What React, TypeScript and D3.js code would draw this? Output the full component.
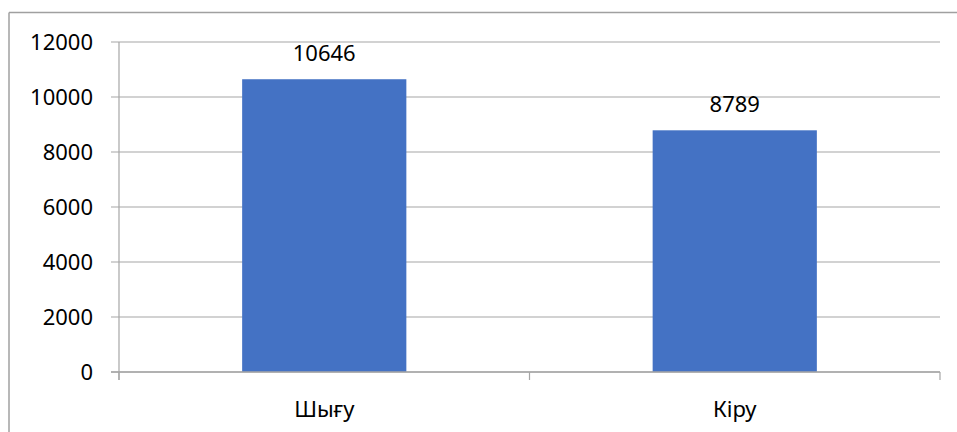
import React from "react";
import * as d3 from "d3";

const categories = ["Шығу", "Кіру"];
const values = [10646, 8789];
const yTicks = [0, 2000, 4000, 6000, 8000, 10000, 12000];

export default function App() {
  const W = 957, H = 432;
  const left = 119, right = 940, top = 42, bottom = 372;
  const x = d3.scaleBand<string>().domain(categories).range([left, right]).paddingInner(0.6).paddingOuter(0.3);
  const xb = d3.scaleBand<string>().domain(categories).range([left, right]);
  const y = d3.scaleLinear().domain([0, 12000]).range([bottom, top]);
  const font = "'Noto Sans', 'Open Sans', sans-serif";
  const grid = "#a6a6a6";
  return (
    <svg width={W} height={H} style={{ position: "absolute", left: 0, top: 0 }} fontFamily={font}>
      <rect x={0} y={0} width={W} height={H} fill="#fff" />
      <line x1={9} y1={12.5} x2={W} y2={12.5} stroke="#a0a0a0" strokeWidth={1.5} />
      <line x1={9} y1={12.5} x2={9} y2={H} stroke="#a0a0a0" strokeWidth={1.5} />
      {yTicks.map((t) => (
        <g key={t}>
          <line x1={111} x2={right} y1={y(t)} y2={y(t)} stroke={grid} strokeWidth={1.2} />
          <text x={93} y={y(t)} dy="0.36em" textAnchor="end" fontSize={22} fill="#000">{t}</text>
        </g>
      ))}
      {categories.map((c, i) => (
        <g key={c}>
          <rect x={x(c)} y={y(values[i])} width={x.bandwidth()} height={bottom - y(values[i])} fill="#4472C4" />
          <text x={x(c)! + x.bandwidth() / 2} y={y(values[i]) - 18} textAnchor="middle" fontSize={22} fill="#000">{values[i]}</text>
          <text x={xb(c)! + xb.bandwidth() / 2} y={417} textAnchor="middle" fontSize={22} fill="#000">{c}</text>
        </g>
      ))}
      <line x1={left} x2={left} y1={top} y2={380} stroke={grid} strokeWidth={1.2} />
      <line x1={111} x2={right} y1={bottom} y2={bottom} stroke={grid} strokeWidth={1.5} />
      {[left, (left + right) / 2, right].map((tx) => (
        <line key={tx} x1={tx} x2={tx} y1={bottom} y2={380} stroke={grid} strokeWidth={1.2} />
      ))}
    </svg>
  );
}
